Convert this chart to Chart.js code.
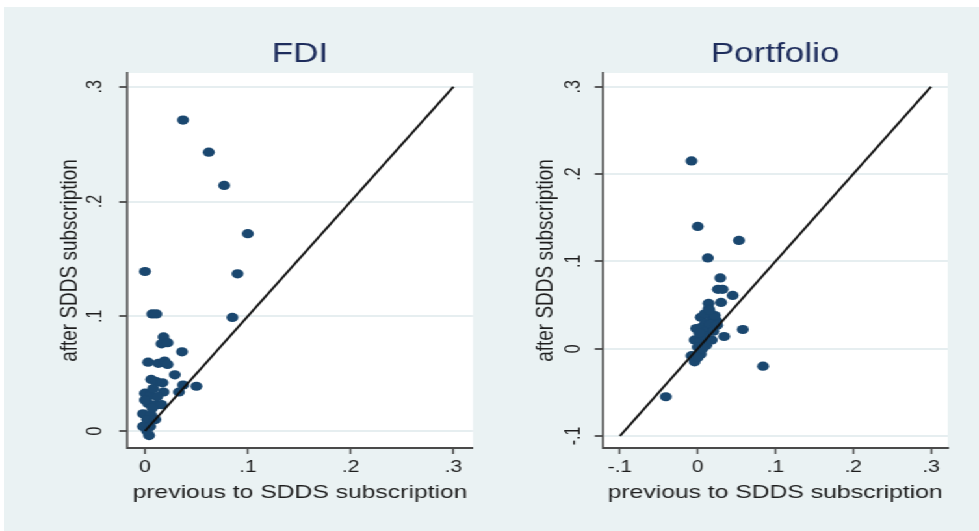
<!DOCTYPE html>
<html>
<head>
<meta charset="utf-8">
<script src="https://cdn.jsdelivr.net/npm/chart.js@4/dist/chart.umd.min.js"></script>
<style>
  html, body { margin:0; padding:0; width:979px; height:531px; overflow:hidden; background:#ffffff; }
  #bg { position:absolute; left:4px; top:7px; right:0; bottom:0; background:#eaf2f3; }
  #wrap { position:absolute; left:0; top:0; width:753px; height:531px; transform:scaleX(1.3); transform-origin:0 0; }
  canvas { position:absolute; top:0; }
</style>
</head>
<body>
<div id="bg"></div>
<div id="wrap">
  <canvas id="c1" width="376" height="531" style="left:0px"></canvas>
  <canvas id="c2" width="377" height="531" style="left:376px"></canvas>
</div>
<script>
// ---------- data ----------
const panelTitles = ['FDI', 'Portfolio'];
const xAxisTitle = 'previous to SDDS subscription';
const yAxisTitle = 'after SDDS subscription';

const fdiPrev  = [0.037, 0.062, 0.077, 0.100, 0.000, 0.090, 0.007, 0.011, 0.085, 0.018, 0.016, 0.022, 0.036, 0.003, 0.013, 0.019, 0.022, 0.029, 0.006, 0.011, 0.017, 0.037, 0.050, 0.000, 0.005, 0.018, 0.033, 0.003, 0.011, 0.016, -0.002, 0.006, 0.002, 0.010, -0.002, 0.005, 0.004, 0.000, 0.007, 0.008, 0.012, 0.002];
const fdiAfter = [0.271, 0.243, 0.214, 0.172, 0.139, 0.137, 0.102, 0.102, 0.099, 0.082, 0.076, 0.077, 0.069, 0.060, 0.059, 0.061, 0.058, 0.049, 0.045, 0.043, 0.042, 0.040, 0.039, 0.033, 0.031, 0.034, 0.034, 0.024, 0.023, 0.023, 0.015, 0.014, 0.010, 0.010, 0.004, 0.004, -0.004, 0.027, 0.020, 0.037, 0.030, 0.000];

const portPrev  = [-0.008, 0.000, 0.053, 0.013, 0.029, 0.026, 0.032, 0.045, 0.014, 0.014, 0.030, 0.004, 0.019, 0.024, -0.002, 0.006, 0.013, 0.058, 0.034, -0.004, 0.004, 0.000, 0.011, -0.008, 0.004, -0.004, 0.084, -0.041, 0.010, 0.016, 0.008, 0.020, 0.002, 0.018, 0.009, 0.022, 0.000, 0.006, 0.015, 0.025];
const portAfter = [0.215, 0.140, 0.124, 0.104, 0.081, 0.068, 0.068, 0.061, 0.052, 0.046, 0.053, 0.036, 0.034, 0.032, 0.023, 0.025, 0.021, 0.022, 0.014, 0.010, 0.010, 0.002, 0.004, -0.008, -0.006, -0.015, -0.020, -0.055, 0.030, 0.028, 0.015, 0.020, 0.018, 0.010, 0.040, 0.038, -0.010, 0.000, 0.044, 0.027];

const fdiLine  = [0, 0.3];      // 45-degree reference line ends
const portLine = [-0.1, 0.3];

const fdiXTicks  = [0, 0.1, 0.2, 0.3];
const fdiYTicks  = [0, 0.1, 0.2, 0.3];
const portXTicks = [-0.1, 0, 0.1, 0.2, 0.3];
const portYTicks = [-0.1, 0, 0.1, 0.2, 0.3];

// ---------- styling ----------
const FONT = 'Liberation Sans, Arial, Helvetica, sans-serif';
const NAVY = '#1a476f';
const AXIS = '#4a4a4a';
const GRID = '#e6eef0';
const TXT = '#1e1e1e';

function fmt(v) {
  if (Math.abs(v) < 1e-9) return '0';
  return (v < 0 ? '-' : '') + '.' + Math.round(Math.abs(v) * 10);
}

const plotBg = {
  id: 'plotBg',
  beforeDraw(chart) {
    const a = chart.chartArea, ctx = chart.ctx;
    ctx.save();
    ctx.fillStyle = '#ffffff';
    ctx.fillRect(a.left, a.top, a.right - a.left, a.bottom - a.top);
    ctx.restore();
  }
};

function makeChart(id, cfg) {
  const pts = cfg.xs.map((x, i) => ({x: x, y: cfg.ys[i]}));
  const line = cfg.line.map(v => ({x: v, y: v}));
  return new Chart(document.getElementById(id), {
    type: 'scatter',
    data: {
      datasets: [
        { data: line, showLine: true, borderColor: '#111111', borderWidth: 2, pointRadius: 0, fill: false },
        { data: pts, backgroundColor: NAVY, borderColor: NAVY, borderWidth: 0, pointRadius: 4.6, pointHoverRadius: 4.6 }
      ]
    },
    options: {
      responsive: false,
      animation: false,
      devicePixelRatio: 1,
      layout: { padding: { left: 0, right: cfg.padRight, top: 0, bottom: 0 } },
      plugins: {
        legend: { display: false },
        tooltip: { enabled: false },
        title: {
          display: true, text: cfg.title, fullSize: false,
          color: '#1e2d5c', font: { family: FONT, size: 27, weight: 'normal' },
          padding: { top: 38.8, bottom: 1.8 }
        }
      },
      scales: {
        x: {
          type: 'linear', position: 'bottom', min: cfg.xMin, max: cfg.xMax,
          afterBuildTicks: s => { s.ticks = cfg.xTicks.map(v => ({value: v})); },
          afterFit: s => { s.height = 83; },
          ticks: { callback: fmt, color: TXT, font: { family: FONT, size: 16 }, padding: 4, minRotation: 0, maxRotation: 0, autoSkip: false },
          grid: { drawOnChartArea: false, tickLength: 6, tickColor: AXIS, tickWidth: 1.4 },
          border: { display: true, color: AXIS, width: 2 },
          title: { display: true, text: xAxisTitle, color: TXT, font: { family: FONT, size: 19 }, padding: { top: 0, bottom: 27.2 } }
        },
        y: {
          type: 'linear', position: 'left', min: cfg.yMin, max: cfg.yMax,
          afterBuildTicks: s => { s.ticks = cfg.yTicks.map(v => ({value: v})); },
          afterFit: s => { s.width = cfg.yWidth; },
          ticks: { callback: fmt, color: TXT, font: { family: FONT, size: 16 }, padding: cfg.yTickPad, minRotation: 90, maxRotation: 90, crossAlign: 'center', autoSkip: false },
          grid: { drawOnChartArea: true, color: GRID, lineWidth: 2, tickLength: 6, tickColor: AXIS, tickWidth: 1.8 },
          border: { display: true, color: AXIS, width: 1.6 },
          title: { display: true, text: yAxisTitle, color: TXT, font: { family: FONT, size: 19 }, padding: { top: cfg.yTitlePad, bottom: 0 } }
        }
      }
    },
    plugins: [plotBg]
  });
}

makeChart('c1', {
  title: panelTitles[0], xs: fdiPrev, ys: fdiAfter, line: fdiLine,
  xTicks: fdiXTicks, yTicks: fdiYTicks,
  xMin: -0.0175, xMax: 0.319, yMin: -0.0148, yMax: 0.312,
  padRight: 12.2, yWidth: 97.7, yTickPad: 11.1, yTitlePad: 42.8
});
makeChart('c2', {
  title: panelTitles[1], xs: portPrev, ys: portAfter, line: portLine,
  xTicks: portXTicks, yTicks: portYTicks,
  xMin: -0.1223, xMax: 0.3215, yMin: -0.1137, yMax: 0.3157,
  padRight: 24, yWidth: 87.6, yTickPad: 6.2, yTitlePad: 32.5
});
</script>
</body>
</html>
